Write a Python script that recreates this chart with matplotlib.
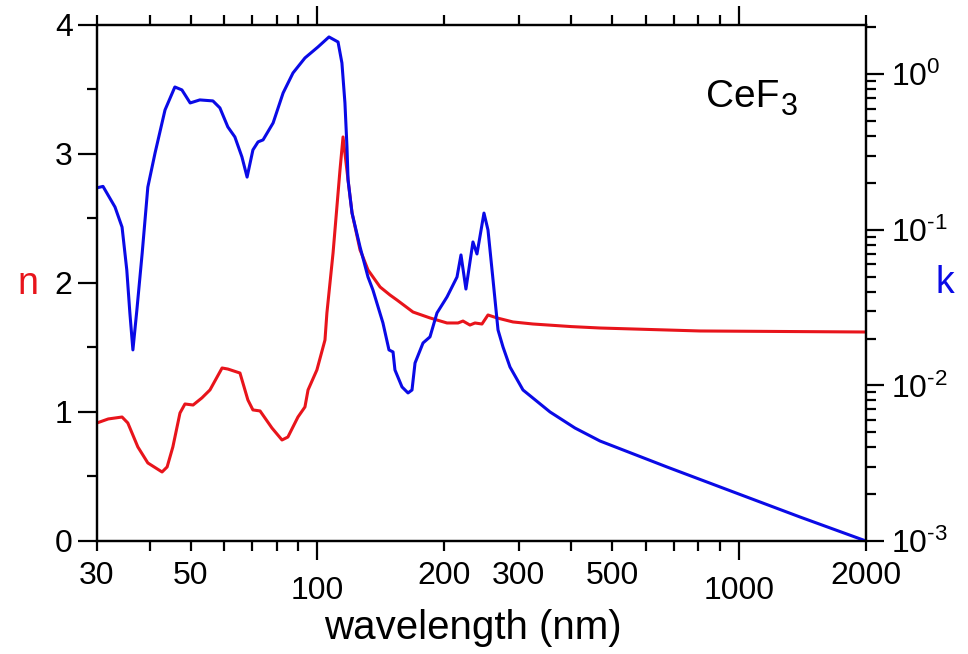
import numpy as np
import matplotlib
matplotlib.use('Agg')
import matplotlib.pyplot as plt
from matplotlib.ticker import FixedLocator, FixedFormatter, LogLocator, NullFormatter

# 数据: 折射率 n
wl_n = [30.0, 31.9, 34.4, 35.5, 37.5, 39.6, 42.8, 44.0, 45.4, 47.2, 48.5, 50.7, 53.2, 55.6,
        59.4, 61.3, 65.5, 68.4, 70.3, 73.1, 78.0, 82.4, 85.1, 89.9, 93.4, 95.0, 99.7, 104.2,
        105.3, 108.9, 113.1, 115.0, 118.2, 119.5, 120.8, 126.2, 128.2, 131.8, 140.8, 148.6,
        154.4, 168.5, 184.9, 202.9, 215.5, 221.4, 230.0, 236.4, 245.6, 253.8, 266.7, 290.9,
        324.6, 400.0, 468.0, 807.9, 2000.0]
n_vals = [0.915, 0.946, 0.961, 0.915, 0.729, 0.605, 0.535, 0.574, 0.729, 0.992, 1.062, 1.054,
          1.109, 1.171, 1.341, 1.333, 1.302, 1.093, 1.016, 1.008, 0.876, 0.783, 0.806, 0.961,
          1.039, 1.171, 1.326, 1.558, 1.767, 2.233, 2.876, 3.132, 2.798, 2.667, 2.543, 2.256,
          2.202, 2.101, 1.969, 1.907, 1.868, 1.775, 1.729, 1.690, 1.690, 1.705, 1.674, 1.690,
          1.682, 1.752, 1.729, 1.698, 1.682, 1.662, 1.651, 1.628, 1.620]

# 数据: 消光系数 k
wl_k = [30.0, 31.0, 33.1, 34.4, 35.3, 35.9, 36.5, 37.3, 38.4, 39.6, 41.2, 43.5, 45.9, 47.7,
        49.9, 52.6, 56.5, 58.7, 61.3, 63.7, 66.2, 68.1, 70.3, 72.3, 74.3, 78.5, 82.9, 87.5,
        93.4, 100.3, 106.5, 111.9, 114.3, 116.2, 117.5, 118.2, 120.8, 126.2, 131.8, 135.4,
        143.0, 147.8, 151.1, 152.7, 158.7, 164.0, 167.6, 170.4, 178.0, 184.9, 192.1, 202.9,
        214.3, 219.0, 225.0, 233.8, 239.0, 248.3, 253.8, 260.9, 268.1, 275.5, 286.2, 307.3,
        356.1, 408.2, 468.0, 674.6, 967.4, 1395.0, 2000.0]
k_vals = [0.186, 0.190, 0.140, 0.104, 0.0552, 0.0292, 0.0169, 0.0305, 0.0709, 0.188, 0.312,
          0.589, 0.827, 0.792, 0.653, 0.683, 0.673, 0.607, 0.458, 0.395, 0.294, 0.218, 0.326,
          0.367, 0.378, 0.486, 0.757, 1.018, 1.271, 1.496, 1.734, 1.610, 1.180, 0.653, 0.340,
          0.209, 0.128, 0.0775, 0.0497, 0.041, 0.0252, 0.0169, 0.0164, 0.01256, 0.00977,
          0.00894, 0.00934, 0.01393, 0.01873, 0.0205, 0.0292, 0.0370, 0.0497, 0.0689, 0.0416,
          0.0835, 0.0699, 0.128, 0.0997, 0.0476, 0.0227, 0.01765, 0.01313, 0.00934, 0.00675,
          0.00532, 0.00439, 0.00299, 0.00207, 0.001426, 0.001]

x_minor_ticks = [30, 40, 50, 60, 70, 80, 90, 200, 300, 400, 500, 600, 700, 800, 900, 2000]
x_minor_labels = ['30', '', '50', '', '', '', '', '200', '300', '', '500', '', '', '', '', '2000']
x_major_ticks = [100, 1000]
x_major_labels = ['100', '1000']
k_ticks = [1e-3, 1e-2, 1e-1, 1e0]
k_tick_labels = [r'$\mathregular{10^{‐3}}$', r'$\mathregular{10^{‐2}}$',
                 r'$\mathregular{10^{‐1}}$', r'$\mathregular{10^{0}}$']

plt.rcParams['font.family'] = ['Liberation Sans', 'DejaVu Sans']
plt.rcParams['mathtext.fontset'] = 'custom'
plt.rcParams['mathtext.rm'] = 'Liberation Sans'
plt.rcParams['mathtext.it'] = 'Liberation Sans:italic'

red = '#e8141b'
blue = '#0a0ae6'

fig = plt.figure(figsize=(9.68, 6.54), dpi=100)
ax = fig.add_axes([0.1002, 0.1728, 0.7944, 0.789])

ax.plot(wl_n, n_vals, color=red, linewidth=2.2)
ax.set_xscale('log')
ax.set_xlim(30, 2000)
ax.set_ylim(0, 4)

for s in ax.spines.values():
    s.set_linewidth(1.6)

ax.xaxis.set_major_locator(FixedLocator(x_major_ticks))
ax.xaxis.set_major_formatter(FixedFormatter(x_major_labels))
ax.xaxis.set_minor_locator(FixedLocator(x_minor_ticks))
ax.xaxis.set_minor_formatter(FixedFormatter(x_minor_labels))
ax.tick_params(axis='x', which='major', direction='out', length=14, width=1.6,
               top=True, labelsize=23, pad=11)
ax.tick_params(axis='x', which='minor', direction='out', length=7.5, width=1.6,
               top=True, labelsize=23, pad=7)

ax.set_yticks([0, 1, 2, 3, 4])
ax.set_yticks([0.5, 1.5, 2.5, 3.5], minor=True)
ax.tick_params(axis='y', which='major', direction='out', length=13.5, width=1.6,
               labelsize=23, pad=4)
ax.tick_params(axis='y', which='minor', direction='out', length=7.5, width=1.6)

ax2 = ax.twinx()
ax2.plot(wl_k, k_vals, color=blue, linewidth=2.2)
ax2.set_yscale('log')
ax2.set_ylim(1e-3, 2.07)
ax2.yaxis.set_minor_locator(LogLocator(base=10, subs=np.arange(2, 10), numticks=10))
ax2.yaxis.set_minor_formatter(NullFormatter())
ax2.set_yticks(k_ticks)
ax2.set_yticklabels(k_tick_labels)
ax2.tick_params(axis='y', which='major', direction='out', length=13, width=1.6,
                labelsize=23, pad=5)
ax2.tick_params(axis='y', which='minor', direction='out', length=7, width=1.6)
for s in ax2.spines.values():
    s.set_linewidth(1.6)

# 样品名
fig.text(706 / 968, 1 - 97 / 654, 'CeF', fontsize=28, ha='left', va='center')
fig.text(781 / 968, 1 - 107 / 654, '3', fontsize=22, ha='left', va='center')

fig.text(28 / 968, 1 - 284 / 654, 'n', color=red, fontsize=27, ha='center', va='center')
fig.text(945 / 968, 1 - 283 / 654, 'k', color=blue, fontsize=27, ha='center', va='center')
fig.text(473 / 968, 1 - 628 / 654, 'wavelength (nm)', fontsize=29, ha='center', va='center')

fig.savefig('out.png', dpi=100)
